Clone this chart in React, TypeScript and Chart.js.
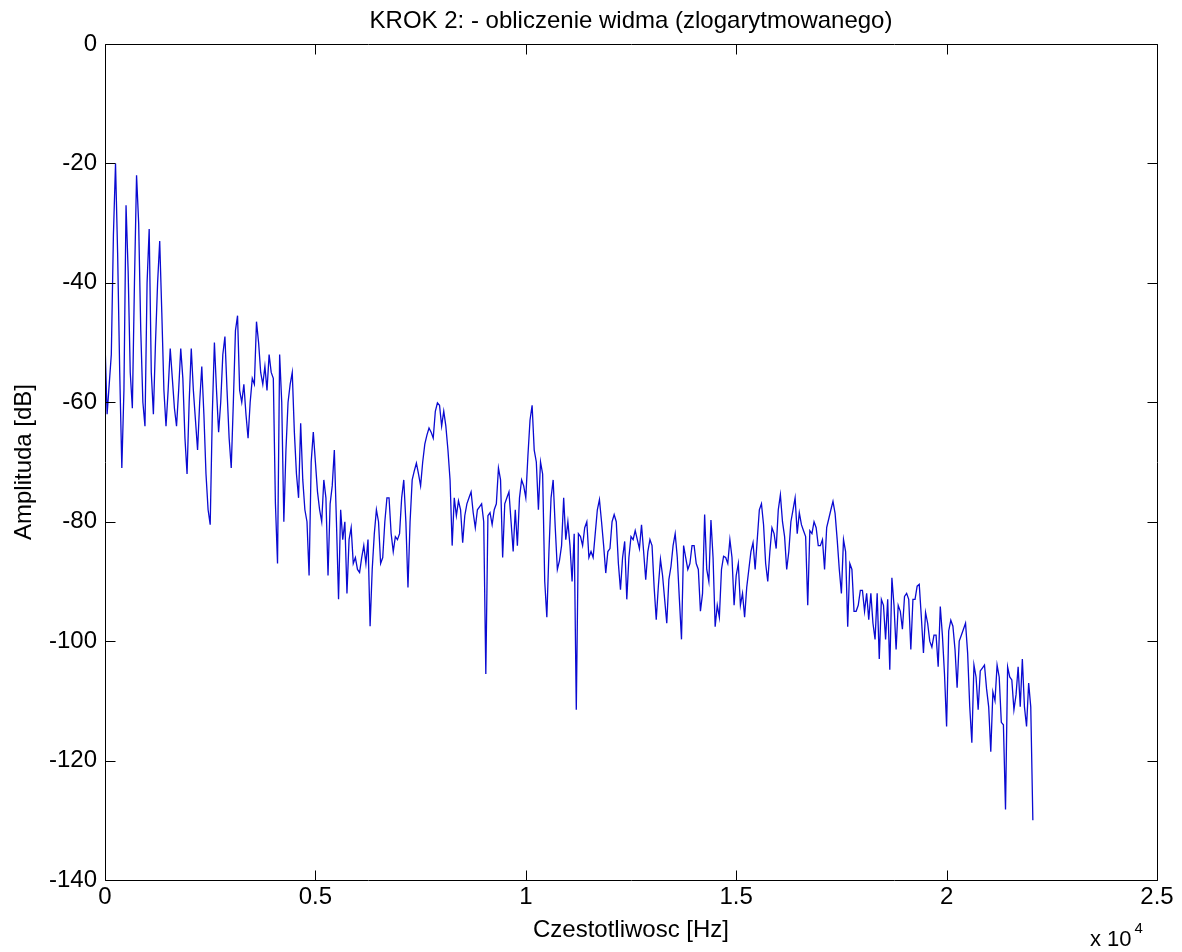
import { useEffect, useRef } from "react";
import { Chart, registerables } from "chart.js";

Chart.register(...registerables);

// Spectrum sampled every 50 Hz from 0 Hz to 22050 Hz (442 bins), values in dB.
const FREQ_STEP_HZ = 50;

const DB_0_TO_5K = [
  -50, -62, -57, -52, -32, -20, -35, -55, -71, -58, -27, -38, -55, -61, -40, -22, -30, -48, -60, -64,
  -40, -31, -55, -62, -50, -40, -33, -45, -58, -64, -58, -51, -56, -61, -64, -58, -51, -56, -66, -72,
  -60, -51, -58, -63, -68, -60, -54, -62, -72, -78, -80.5, -62, -50, -58, -65, -60, -52, -49, -58, -66,
  -71, -60, -48, -45.5, -58, -60, -57, -62, -66, -60, -56, -57, -46.5, -50, -55, -57, -54, -58, -52, -55,
  -56, -77, -87, -52, -60, -80, -68, -60, -57, -55, -65, -72, -76, -63.5, -73, -78, -80, -89, -70, -65,
];

const DB_5K_TO_10K = [
  -70, -75, -78, -80, -73, -76, -89, -77, -74, -68, -80, -93, -78, -83, -80, -92, -83, -81, -87, -86,
  -88, -88.5, -86, -84, -87, -83, -97.5, -88, -82, -78, -80, -87, -86, -80, -76, -76, -82, -85, -82.5, -83,
  -82, -76, -73, -80, -91, -80, -73, -71.5, -70.2, -72, -74, -70, -67, -65.5, -64.3, -65, -66, -61.5, -60.1, -60.5,
  -64, -61.5, -64, -68, -73, -84, -76, -79, -76.5, -78, -83.5, -79, -77, -76, -75, -78.5, -81, -78, -77.5, -77,
  -80, -105.5, -79, -78.5, -80.5, -78, -77, -71, -73, -86, -77, -76, -75, -80, -85, -78, -84, -76, -73, -74,
];

const DB_10K_TO_15K = [
  -76, -69, -63, -60.5, -68, -70, -78, -70, -72, -90, -96, -85, -76, -73, -81, -88, -86.5, -84, -76, -83,
  -80, -84, -90, -82, -111.5, -82, -82.5, -84, -81, -80, -86, -85, -86, -82, -78, -76.3, -80, -84, -88.6, -85,
  -84.5, -80, -78.8, -80, -87, -91.4, -86, -83.3, -93, -86, -82.5, -83, -81.5, -83, -84.5, -80.5, -85, -89.7, -85, -83,
  -84, -91, -96.4, -90.8, -86.3, -89, -93, -97, -89.7, -87.5, -84, -82, -86, -93, -99.7, -84, -86, -88, -87, -84,
  -84, -87, -88, -95, -92, -78.8, -88, -90, -79.7, -86, -97.6, -94, -96, -88, -85.8, -86, -87, -83, -86, -94,
];

const DB_15K_TO_20K = [
  -89, -87, -94, -92, -96, -91, -88, -85, -83.5, -88, -83, -78, -77, -80.5, -87, -90, -85, -81, -82, -84.5,
  -78, -75.5, -80, -82.5, -88, -85, -80, -78, -76, -82, -78.5, -80.5, -81.5, -82.5, -94, -81.5, -82, -80, -81, -84,
  -84, -83, -88, -81, -79.5, -78, -76.6, -78.6, -83, -88, -92, -83, -85, -97.6, -87, -88, -95, -95, -94, -91.5,
  -91.5, -95, -92, -96.4, -92, -97, -99.7, -92, -103, -93, -94, -99.7, -93, -104.8, -89.4, -94, -101.4, -94, -95, -98,
  -92.5, -92, -93, -101.4, -93, -93, -90.8, -90.5, -96, -102, -95.2, -97, -100, -101, -99, -99, -104.3, -94.2, -99, -105.5,
];

const DB_20K_TO_22K = [
  -114.3, -98.3, -96.5, -97.5, -101.4, -107.8, -100, -99, -98, -97, -102, -111, -117, -104, -106, -111.5, -105, -104.5, -104, -108,
  -111, -118.5, -108.5, -110, -104, -106, -113.6, -114, -128.2, -104.3, -106, -106.5, -111.5, -109, -104.3, -111, -103, -111, -114.3, -107,
  -111, -130,
];

const SPECTRUM_DB = [
  ...DB_0_TO_5K,
  ...DB_5K_TO_10K,
  ...DB_10K_TO_15K,
  ...DB_15K_TO_20K,
  ...DB_20K_TO_22K,
];

const X_TICKS_HZ = [0, 5000, 10000, 15000, 20000, 25000];
const X_TICK_SCALE = 10000;
const Y_TICKS_DB = [0, -20, -40, -60, -80, -100, -120, -140];

const TITLE = "KROK 2: - obliczenie widma (zlogarytmowanego)";
const X_LABEL = "Czestotliwosc [Hz]";
const Y_LABEL = "Amplituda [dB]";
const X_EXP_BASE = "x 10";
const X_EXP_POWER = "4";

const FONT_FAMILY = '"Liberation Sans", Arial, sans-serif';
const W = 1182;
const H = 952;

// Axes box with inward tick marks on all four sides, plus the x-axis exponent.
const framePlugin = {
  id: "frame",
  afterDatasetsDraw(chart: any) {
    const { ctx, chartArea: a, scales } = chart;
    const x = scales.x;
    const y = scales.y;
    const L = Math.round(a.left) + 0.5;
    const R = Math.round(a.right) + 0.5;
    const T = Math.round(a.top) + 0.5;
    const B = Math.round(a.bottom) + 0.5;
    const tick = 10;
    ctx.save();
    ctx.strokeStyle = "#000";
    ctx.lineWidth = 1;
    ctx.beginPath();
    ctx.rect(L, T, R - L, B - T);
    X_TICKS_HZ.forEach((v) => {
      const px = Math.round(x.getPixelForValue(v)) + 0.5;
      ctx.moveTo(px, B);
      ctx.lineTo(px, B - tick);
      ctx.moveTo(px, T);
      ctx.lineTo(px, T + tick);
    });
    Y_TICKS_DB.forEach((v) => {
      const py = Math.round(y.getPixelForValue(v)) + 0.5;
      ctx.moveTo(L, py);
      ctx.lineTo(L + tick, py);
      ctx.moveTo(R, py);
      ctx.lineTo(R - tick, py);
    });
    ctx.stroke();

    ctx.fillStyle = "#000";
    ctx.textAlign = "left";
    ctx.textBaseline = "alphabetic";
    ctx.font = `22px ${FONT_FAMILY}`;
    const baseX = a.right - 67;
    const baseY = H - 6;
    ctx.fillText(X_EXP_BASE, baseX, baseY);
    const bw = ctx.measureText(X_EXP_BASE).width;
    ctx.font = `15px ${FONT_FAMILY}`;
    ctx.fillText(X_EXP_POWER, baseX + bw + 3, baseY - 13);
    ctx.restore();
  },
};

export default function App() {
  const canvasRef = useRef<HTMLCanvasElement | null>(null);

  useEffect(() => {
    const canvas = canvasRef.current;
    if (!canvas) return;
    const points = SPECTRUM_DB.map((db, i) => ({ x: i * FREQ_STEP_HZ, y: db }));
    const tickFont = { family: FONT_FAMILY, size: 24 };

    const chart = new Chart(canvas, {
      type: "line",
      data: {
        datasets: [
          {
            data: points,
            borderColor: "#0a0ad2",
            borderWidth: 1.3,
            pointRadius: 0,
            tension: 0,
            fill: false,
          },
        ],
      },
      options: {
        responsive: false,
        animation: false,
        devicePixelRatio: 1,
        layout: { padding: { left: 0, right: 25, top: 0, bottom: 0 } },
        plugins: {
          legend: { display: false },
          tooltip: { enabled: false },
          title: {
            display: true,
            text: TITLE,
            fullSize: false,
            color: "#000",
            font: { family: FONT_FAMILY, size: 24, weight: "normal" },
            padding: { top: 7, bottom: 8.2 },
          },
        },
        scales: {
          x: {
            type: "linear",
            min: 0,
            max: 25000,
            afterBuildTicks: (s: any) => {
              s.ticks = X_TICKS_HZ.map((v) => ({ value: v }));
            },
            afterFit: (s: any) => {
              s.height = 72;
            },
            ticks: {
              callback: (v: any) => String(Number(v) / X_TICK_SCALE),
              color: "#000",
              font: tickFont,
              padding: 3,
              maxRotation: 0,
              autoSkip: false,
            },
            grid: { display: false, drawTicks: false },
            border: { display: false },
            title: {
              display: true,
              text: X_LABEL,
              color: "#000",
              font: tickFont,
              padding: { top: 0, bottom: 7 },
            },
          },
          y: {
            type: "linear",
            min: -140,
            max: 0,
            afterBuildTicks: (s: any) => {
              s.ticks = Y_TICKS_DB.map((v) => ({ value: v }));
            },
            afterFit: (s: any) => {
              s.width = 105;
            },
            ticks: {
              color: "#000",
              font: tickFont,
              padding: 8,
              autoSkip: false,
            },
            grid: { display: false, drawTicks: false },
            border: { display: false },
            title: {
              display: true,
              text: Y_LABEL,
              color: "#000",
              font: tickFont,
              padding: { top: 10, bottom: 0 },
            },
          },
        },
      },
      plugins: [framePlugin],
    });

    return () => chart.destroy();
  }, []);

  return (
    <div style={{ position: "fixed", left: 0, top: 0, width: W, height: H, background: "#fff" }}>
      <canvas ref={canvasRef} width={W} height={H} style={{ width: W, height: H, display: "block" }} />
    </div>
  );
}
